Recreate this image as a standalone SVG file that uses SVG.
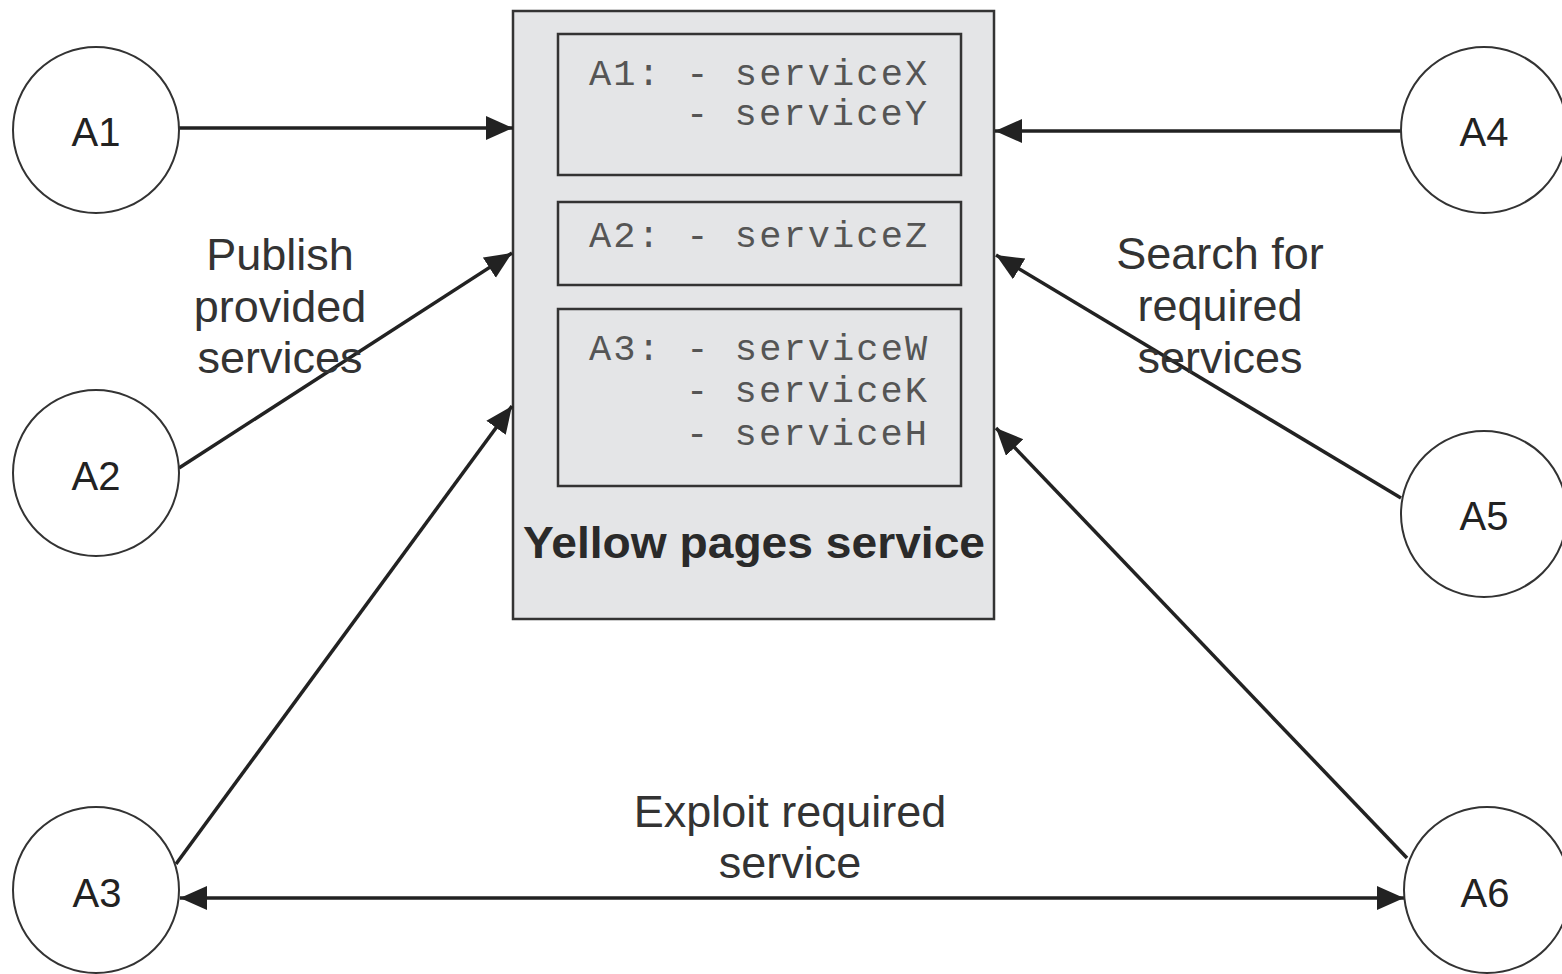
<svg xmlns="http://www.w3.org/2000/svg" width="1562" height="974" viewBox="0 0 1562 974">
<style>
.agent{fill:#fff;stroke:#333;stroke-width:2}
.alabel{font-family:"Liberation Sans",Arial,sans-serif;font-size:40px;fill:#222;text-anchor:middle}
.box{fill:#e4e5e7;stroke:#333;stroke-width:2.5}
.mono{font-family:"Liberation Mono","Courier New",monospace;font-size:37px;letter-spacing:2.1px;fill:#555}
.title{font-family:"Liberation Sans",Arial,sans-serif;font-size:45px;font-weight:bold;fill:#2a2a2a;text-anchor:middle}
.lbl{font-family:"Liberation Sans",Arial,sans-serif;font-size:45px;fill:#333;text-anchor:middle}
.conn{stroke:#222;stroke-width:3.5;fill:none;marker-end:url(#arrow)}
</style>
<defs>
<marker id="arrow" markerUnits="userSpaceOnUse" markerWidth="30" markerHeight="26" refX="27" refY="12" orient="auto-start-reverse">
<path d="M0,0 L27,12 L0,24 z" fill="#222"/>
</marker>
</defs>
<rect width="1562" height="974" fill="#fff"/>
<g id="yellow-pages">
<rect class="box" x="513" y="11" width="481" height="608"/>
<rect class="box" x="558" y="34" width="403" height="141"/>
<rect class="box" x="558" y="202" width="403" height="83"/>
<rect class="box" x="558" y="309" width="403" height="177"/>
<text class="mono" x="589" y="85">A1: - serviceX</text>
<text class="mono" x="686" y="125">- serviceY</text>
<text class="mono" x="589" y="247">A2: - serviceZ</text>
<text class="mono" x="589" y="360">A3: - serviceW</text>
<text class="mono" x="686" y="402">- serviceK</text>
<text class="mono" x="686" y="445">- serviceH</text>
<text class="title" x="754" y="558" textLength="462" lengthAdjust="spacingAndGlyphs">Yellow pages service</text>
</g>
<g id="connectors">
<line class="conn" x1="178" y1="128" x2="513" y2="128"/>
<line class="conn" x1="179" y1="468" x2="512" y2="253"/>
<line class="conn" x1="176" y1="864" x2="512" y2="406"/>
<line class="conn" x1="1401" y1="131" x2="995" y2="131"/>
<line class="conn" x1="1401" y1="498" x2="996" y2="255"/>
<line class="conn" x1="1407" y1="858" x2="996" y2="428"/>
<line class="conn" style="marker-start:url(#arrow)" x1="180" y1="898" x2="1404" y2="898"/>
</g>
<g id="A1"><circle class="agent" cx="96" cy="130" r="83"/><text class="alabel" x="96" y="146">A1</text></g>
<g id="A2"><circle class="agent" cx="96" cy="473" r="83"/><text class="alabel" x="96" y="490">A2</text></g>
<g id="A3"><circle class="agent" cx="96" cy="890" r="83"/><text class="alabel" x="97" y="907">A3</text></g>
<g id="A4"><circle class="agent" cx="1484" cy="130" r="83"/><text class="alabel" x="1484" y="146">A4</text></g>
<g id="A5"><circle class="agent" cx="1484" cy="514" r="83"/><text class="alabel" x="1484" y="530">A5</text></g>
<g id="A6"><circle class="agent" cx="1487" cy="890" r="83"/><text class="alabel" x="1485" y="907">A6</text></g>
<g id="labels">
<text class="lbl" x="280" y="270">Publish</text>
<text class="lbl" x="280" y="322">provided</text>
<text class="lbl" x="280" y="373">services</text>
<text class="lbl" x="1220" y="269">Search for</text>
<text class="lbl" x="1220" y="321">required</text>
<text class="lbl" x="1220" y="373">services</text>
<text class="lbl" x="790" y="827">Exploit required</text>
<text class="lbl" x="790" y="878">service</text>
</g>
</svg>
